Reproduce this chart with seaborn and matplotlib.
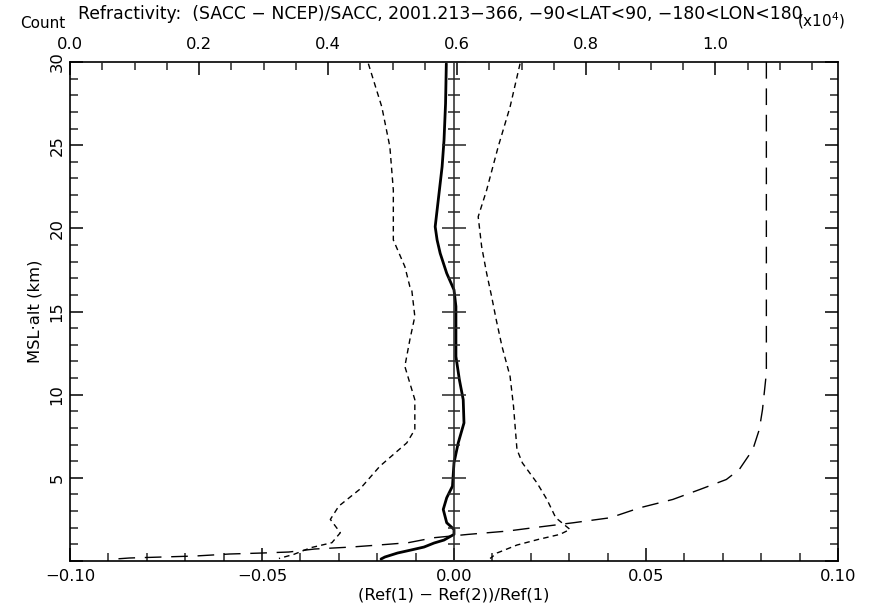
import matplotlib
matplotlib.use("Agg")
import matplotlib.pyplot as plt
import numpy as np
import pandas as pd
import seaborn as sns
from matplotlib.ticker import MultipleLocator, FixedLocator, FuncFormatter

# ---------------- data ----------------
alt_mean = [29.9, 27.5, 25.3, 23.7, 22.5, 21.3, 20.1, 19.3, 18.5, 17.3, 16.3, 15.3, 14.3,
            13.3, 12.3, 10.9, 9.7, 8.3, 7.1, 5.9, 4.5, 3.8, 3.1, 2.3, 1.9, 1.6, 1.26,
            1.08, 0.84, 0.66, 0.48, 0.24, 0.12]
mean_val = [-0.0020, -0.0022, -0.0026, -0.0031, -0.0037, -0.0043, -0.0049, -0.0044, -0.0036,
            -0.0019, 0.0, 0.0005, 0.0005, 0.0005, 0.0005, 0.0014, 0.0024, 0.0026, 0.0011,
            0.0, -0.0004, -0.0019, -0.0028, -0.0019, 0.0, 0.0, -0.0026, -0.0052, -0.0078,
            -0.0112, -0.0147, -0.0180, -0.0190]

alt_lo = [29.9, 27.3, 24.9, 22.3, 19.3, 17.7, 16.5, 16.3, 14.7, 13.3, 11.7, 9.7, 7.9, 7.1,
          5.7, 4.3, 3.3, 2.5, 1.7, 1.1, 0.8, 0.4, 0.15]
lo_val = [-0.0223, -0.0188, -0.0167, -0.0158, -0.0158, -0.0128, -0.0115, -0.0110, -0.0102,
          -0.0115, -0.0128, -0.0102, -0.0102, -0.0123, -0.0193, -0.0246, -0.0300, -0.0322,
          -0.0296, -0.0318, -0.0373, -0.0417, -0.0456]

alt_hi = [29.9, 27.3, 24.9, 22.3, 20.7, 18.9, 17.3, 15.9, 14.5, 12.9, 11.1, 9.3, 6.7, 5.9,
          4.7, 3.7, 2.6, 1.9, 1.6, 1.3, 0.96, 0.48, 0.15]
hi_val = [0.0172, 0.0146, 0.0115, 0.0085, 0.0063, 0.0072, 0.0085, 0.0098, 0.0110, 0.0125,
          0.0146, 0.0155, 0.0164, 0.0178, 0.0216, 0.0242, 0.0265, 0.0302, 0.0276, 0.0220,
          0.0164, 0.0112, 0.0094]

alt_count = [30.0, 11.3, 9.1, 7.9, 6.7, 5.5, 4.9, 4.3, 3.7, 3.2, 2.6, 2.3, 2.0, 1.8, 1.6,
             1.4, 1.1, 0.96, 0.84, 0.72, 0.54, 0.48, 0.42, 0.3, 0.24, 0.18, 0.1]
count_val = [1.079, 1.079, 1.073, 1.068, 1.058, 1.037, 1.017, 0.976, 0.934, 0.883, 0.837,
             0.780, 0.718, 0.678, 0.617, 0.564, 0.524, 0.478, 0.436, 0.379, 0.339, 0.298,
             0.247, 0.194, 0.143, 0.092, 0.063]

x_ticks = [-0.10, -0.05, 0.00, 0.05, 0.10]
y_ticks = [5, 10, 15, 20, 25, 30]
count_ticks = [0.0, 0.2, 0.4, 0.6, 0.8, 1.0]

title = "Refractivity:  (SACC \u2212 NCEP)/SACC, 2001.213\u2212366, \u221290<LAT<90, \u2212180<LON<180"
xlabel = "(Ref(1) \u2212 Ref(2))/Ref(1)"
ylabel = "MSL\u00b7alt (km)"

# ---------------- figure ----------------
sns.set_theme(style="white")
plt.rcParams["font.family"] = ["DejaVu Sans"]
plt.rcParams["axes.unicode_minus"] = True

W, H = 877, 613
fig = plt.figure(figsize=(W / 100, H / 100), dpi=100)
L, R, T, B = 70, 838, 62, 561
ax = fig.add_axes([L / W, (H - B) / H, (R - L) / W, (B - T) / H])

ax2 = ax.twiny()   # count axis on top
ax3 = ax.twinx()   # centre axis at x = 0

lw_sp = 1.2
FS = 11.8

df_mean = pd.DataFrame({"val": mean_val, "alt": alt_mean})
df_lo = pd.DataFrame({"val": lo_val, "alt": alt_lo})
df_hi = pd.DataFrame({"val": hi_val, "alt": alt_hi})
df_cnt = pd.DataFrame({"val": count_val, "alt": alt_count})

sns.lineplot(data=df_mean, x="val", y="alt", sort=False, estimator=None, ax=ax,
             color="black", linewidth=2.0)
for d in (df_lo, df_hi):
    sns.lineplot(data=d, x="val", y="alt", sort=False, estimator=None, ax=ax,
                 color="black", linewidth=1.0)
    ax.lines[-1].set_dashes((4.0, 3.0))

sns.lineplot(data=df_cnt, x="val", y="alt", sort=False, estimator=None, ax=ax2,
             color="black", linewidth=1.0)
ax2.lines[-1].set_dashes((12, 7))

# ----- main axes -----
ax.set_xlim(-0.10, 0.10)
ax.set_ylim(0, 30)
ax.xaxis.set_major_locator(FixedLocator(x_ticks))
ax.xaxis.set_minor_locator(MultipleLocator(0.01))
ax.xaxis.set_major_formatter(FuncFormatter(lambda v, p: f"{v:.2f}".replace("-", "\u2212")))
ax.yaxis.set_major_locator(MultipleLocator(5))
ax.yaxis.set_minor_locator(MultipleLocator(1))
ax.yaxis.set_major_formatter(FuncFormatter(lambda v, p: f"{int(round(v))}" if round(v) in y_ticks else ""))
ax.xaxis.set_ticks_position("bottom")
ax.yaxis.set_ticks_position("both")
ax.tick_params(axis="both", which="major", direction="in", length=9.5, width=1.1,
               labelsize=FS, colors="black")
ax.tick_params(axis="both", which="minor", direction="in", length=5.5, width=1.1)
ax.tick_params(axis="x", which="major", pad=6)
ax.tick_params(axis="y", which="major", pad=4, labelright=False, labelleft=True)
for t in ax.get_yticklabels():
    t.set_rotation(90)
    t.set_va("center")
for s in ax.spines.values():
    s.set_linewidth(lw_sp)
    s.set_color("black")
ax.set_xlabel(xlabel, fontsize=FS, color="black", labelpad=2)
ax.set_ylabel(ylabel, fontsize=FS, color="black")
ax.yaxis.set_label_coords(-0.036, 0.5)

# ----- top count axis -----
ax2.set_xlim(0.0, 1.19)
ax2.xaxis.set_major_locator(FixedLocator(count_ticks))
ax2.xaxis.set_minor_locator(MultipleLocator(0.05))
ax2.xaxis.set_major_formatter(FuncFormatter(lambda v, p: f"{v:.1f}"))
ax2.tick_params(axis="x", which="major", direction="in", length=9.5, width=1.1,
                labelsize=FS, pad=7, colors="black")
ax2.tick_params(axis="x", which="minor", direction="in", length=5.5, width=1.1)
ax2.set_xlabel("")
ax2.set_ylabel("")
for s in ax2.spines.values():
    s.set_visible(False)

# ----- centre axis at x = 0 -----
ax3.set_ylim(0, 30)
for k, s in ax3.spines.items():
    s.set_visible(k == "left")
ax3.spines["left"].set_position(("data", 0))
ax3.spines["left"].set_linewidth(1.1)
ax3.yaxis.set_ticks_position("left")
ax3.yaxis.set_major_locator(MultipleLocator(5))
ax3.yaxis.set_minor_locator(MultipleLocator(1))
ax3.tick_params(axis="y", which="major", direction="inout", length=17, width=1.1,
                labelleft=False, labelright=False)
ax3.tick_params(axis="y", which="minor", direction="inout", length=9, width=1.1)
ax3.set_ylabel("")

# ----- header texts -----
fig.text(78 / W, 1 - 14 / H, title, fontsize=12.4, ha="left", va="center", color="black")
fig.text(20 / W, 1 - 23 / H, "Count", fontsize=11, ha="left", va="center", color="black")
fig.text(797 / W, 1 - 21 / H, "(x10$^{4}$)", fontsize=11, ha="left", va="center", color="black")

fig.savefig("out.png", dpi=100, facecolor="white")
